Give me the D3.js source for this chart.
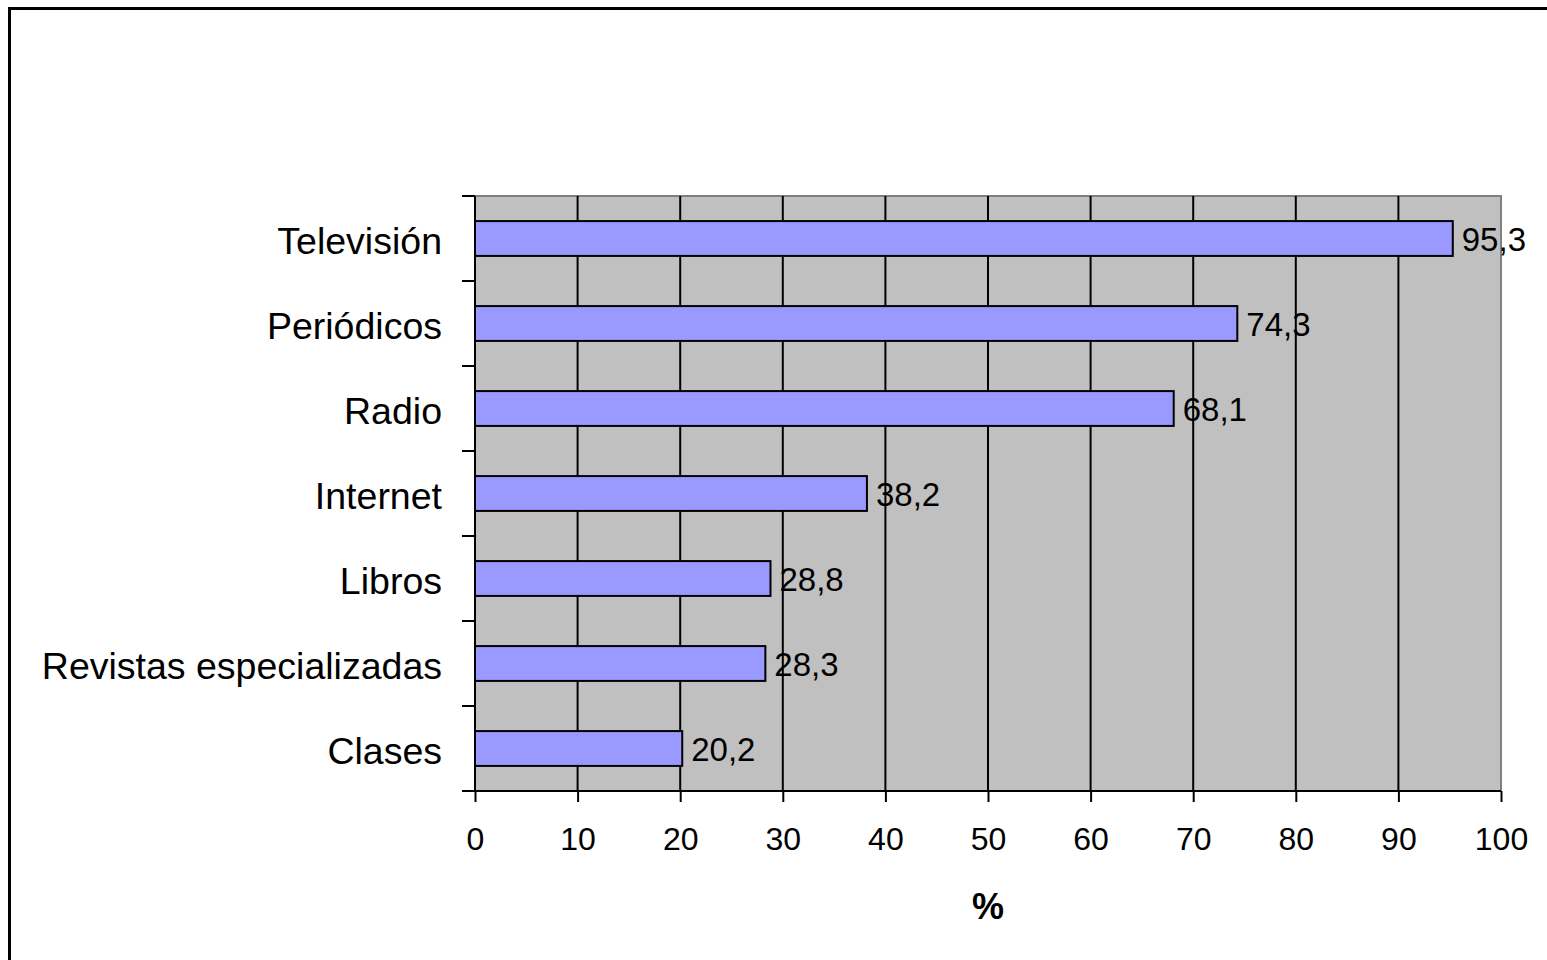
<!DOCTYPE html>
<html><head><meta charset="utf-8">
<script src="https://cdn.jsdelivr.net/npm/d3@7"></script>
<style>html,body{margin:0;padding:0;background:#fff;}svg{display:block;}</style>
</head><body>
<svg id="c" width="1547" height="960"></svg>
<script>
const categories = ["Televisión","Periódicos","Radio","Internet","Libros","Revistas especializadas","Clases"];
const values = [95.3, 74.3, 68.1, 38.2, 28.8, 28.3, 20.2];
const xTicks = [0,10,20,30,40,50,60,70,80,90,100];
const xTitle = "%";

const svg = d3.select("#c");
const font = "'Liberation Sans', Arial, sans-serif";
// outer frame
svg.append("path").attr("d","M9.5,960 L9.5,8.5 L1547,8.5").attr("fill","none").attr("stroke","#000").attr("stroke-width",3);

const L=475, R=1501, T=196, B=791;
const x = d3.scaleLinear().domain([0,100]).range([L,R]);
const y = d3.scaleBand().domain(categories).range([T,B]).paddingInner(0.59).paddingOuter(0.295);

svg.append("rect").attr("x",L).attr("y",T).attr("width",R-L).attr("height",B-T).attr("fill","#c0c0c0");
svg.append("path").attr("d",`M${L},${T} L${R},${T} L${R},${B}`).attr("fill","none").attr("stroke","#808080").attr("stroke-width",2);

// gridlines
svg.append("g").selectAll("line").data(xTicks.filter(d=>d>0&&d<100)).join("line")
  .attr("x1",d=>x(d)).attr("x2",d=>x(d)).attr("y1",T).attr("y2",B)
  .attr("stroke","#000").attr("stroke-width",2);

// bars
svg.append("g").selectAll("rect").data(values).join("rect")
  .attr("x",x(0)).attr("y",(d,i)=>y(categories[i]))
  .attr("width",d=>x(d)-x(0)).attr("height",y.bandwidth())
  .attr("fill","#9999ff").attr("stroke","#000").attr("stroke-width",2);

// data labels
svg.append("g").selectAll("text").data(values).join("text")
  .attr("x",d=>x(d)+9).attr("y",(d,i)=>y(categories[i])+y.bandwidth()/2)
  .attr("dy","0.38em").attr("font-family",font).attr("font-size",33).attr("fill","#000")
  .text(d=>d3.format(".1f")(d).replace(".",","));

// x axis
const xa = svg.append("g").attr("transform",`translate(0,${B})`)
  .call(d3.axisBottom(x).tickValues(xTicks).tickSize(11).tickPadding(25).tickSizeOuter(0));
xa.select(".domain").attr("stroke","#000").attr("stroke-width",2).attr("d",`M${L-13},0H${R}`);
xa.selectAll(".tick line").attr("stroke","#000").attr("stroke-width",2);
xa.selectAll("text").attr("font-family",font).attr("font-size",32).attr("fill","#000");

// y axis
const yb = d3.scaleBand().domain(categories).range([T,B]);
const ya = svg.append("g").attr("transform",`translate(${L},0)`);
ya.append("line").attr("x1",0).attr("x2",0).attr("y1",T).attr("y2",B).attr("stroke","#000").attr("stroke-width",2);
const bounds = categories.map(c=>yb(c)).concat([B]);
ya.selectAll("line.t").data(bounds).join("line").attr("class","t")
  .attr("x1",-13).attr("x2",0).attr("y1",d=>d).attr("y2",d=>d).attr("stroke","#000").attr("stroke-width",2);
ya.selectAll("text").data(categories).join("text")
  .attr("x",-33).attr("y",d=>yb(d)+yb.bandwidth()/2).attr("dy","0.4em")
  .attr("text-anchor","end").attr("font-family",font).attr("font-size",37.5).attr("fill","#000")
  .text(d=>d);

svg.append("text").attr("x",(L+R)/2).attr("y",906).attr("dy","0.36em").attr("text-anchor","middle")
  .attr("font-family",font).attr("font-size",36).attr("font-weight","bold").text(xTitle);
</script>
</body></html>
